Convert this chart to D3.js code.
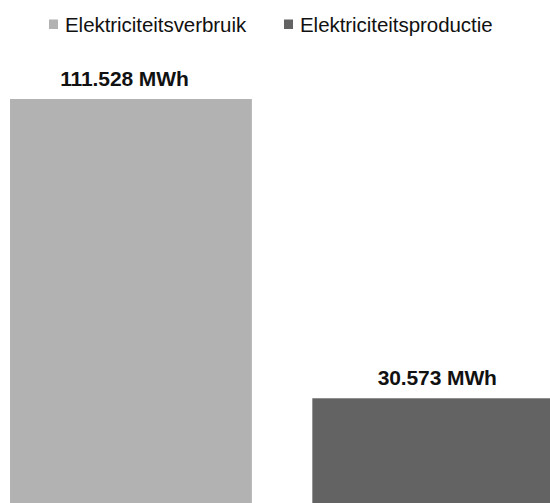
<!DOCTYPE html>
<html>
<head>
<meta charset="utf-8">
<script src="https://cdn.jsdelivr.net/npm/d3@7"></script>
<style>
  html, body { margin: 0; padding: 0; background: #fff; }
  svg { display: block; }
  text { font-family: "Liberation Sans", Arial, sans-serif; }
</style>
</head>
<body>
<svg id="chart" width="550" height="503"></svg>
<script>
// Electricity consumption vs. production (MWh)
const categories = ["Elektriciteitsverbruik", "Elektriciteitsproductie"];
const values = [111528, 30573];
const valueLabels = ["111.528 MWh", "30.573 MWh"];
const colors = ["#b2b2b2", "#636363"];

const svg = d3.select("#chart");

// Plot area runs past the bottom/right edges of the canvas
const x = d3.scaleBand()
  .domain(categories)
  .range([-20.2, 584.4])
  .paddingInner(0.2)
  .paddingOuter(0.1);

const y = d3.scaleLinear()
  .domain([0, 120000])
  .range([511.3, 67.7]);

const color = d3.scaleOrdinal().domain(categories).range(colors);

// Bars
svg.append("g")
  .selectAll("rect")
  .data(categories)
  .join("rect")
  .attr("x", d => x(d))
  .attr("y", (d, i) => y(values[i]))
  .attr("width", x.bandwidth())
  .attr("height", (d, i) => y(0) - y(values[i]))
  .attr("fill", d => color(d));

// Value labels above the bars
const labelShift = [-6.5, 4];
svg.append("g")
  .selectAll("text")
  .data(categories)
  .join("text")
  .attr("x", (d, i) => x(d) + x.bandwidth() / 2 + labelShift[i])
  .attr("y", (d, i) => y(values[i]) - 13.3)
  .attr("text-anchor", "middle")
  .attr("font-size", 21)
  .attr("font-weight", "bold")
  .attr("letter-spacing", -0.1)
  .attr("fill", "#111")
  .text((d, i) => valueLabels[i]);

// Legend
const legendX = [49, 284];
const legend = svg.append("g")
  .selectAll("g")
  .data(categories)
  .join("g")
  .attr("transform", (d, i) => `translate(${legendX[i]},0)`);

legend.append("rect")
  .attr("x", 0)
  .attr("y", 19.5)
  .attr("width", 9)
  .attr("height", 9.5)
  .attr("fill", d => color(d));

legend.append("text")
  .attr("x", 16)
  .attr("y", 32)
  .attr("font-size", 20.5)
  .attr("fill", "#111")
  .attr("letter-spacing", -0.05)
  .text(d => d);
</script>
</body>
</html>
